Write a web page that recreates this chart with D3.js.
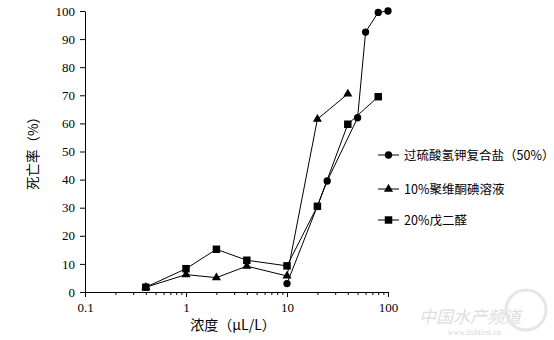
<!DOCTYPE html>
<html>
<head>
<meta charset="utf-8">
<script src="https://cdn.jsdelivr.net/npm/d3@7"></script>
<style>
  body { margin: 0; background: #fff; }
  svg { display: block; }
  .tick text { font-family: "Liberation Serif", "DejaVu Serif", serif; font-size: 13px; fill: #000; }
  .cn { font-family: "Noto Sans CJK SC", sans-serif; fill: #000; }
</style>
</head>
<body>
<svg class="chart"></svg>
<script>
// series data (concentration in uL/L, mortality %)
var seriesNames = ["过硫酸氢钾复合盐（50%）", "10%聚维酮碘溶液", "20%戊二醛"];
var potassiumX = [10, 25, 50, 60, 80, 100];
var potassiumY = [3, 39.5, 62, 92.5, 99.5, 100];
var iodineX = [0.4, 1, 2, 4, 10, 20, 40];
var iodineY = [1.7, 6.2, 5.1, 9.2, 5.7, 61.5, 70.5];
var glutaralX = [0.4, 1, 2, 4, 10, 20, 40, 80];
var glutaralY = [1.7, 8.3, 15.2, 11.3, 9.3, 30.5, 59.7, 69.5];
var xTicks = [0.1, 1, 10, 100];
var yTicks = [0, 10, 20, 30, 40, 50, 60, 70, 80, 90, 100];

function show() {
    'use strict';

    var margin = { top: 11, left: 85 },
        width = 303,
        height = 281;

    var svg = d3.select(".chart")
        .attr("width", 554)
        .attr("height", 340);

    var chart = svg.append("g")
        .attr("transform", "translate(" + margin.left + "," + margin.top + ")");

    var x = d3.scaleLog().domain([0.1, 100]).range([0, width]);
    var y = d3.scaleLinear().domain([0, 100]).range([height, 0]);

    // minor log ticks
    var minor = [];
    [0.1, 1, 10].forEach(function (d) {
        for (var k = 2; k <= 9; k++) minor.push(d * k);
    });

    chart.append("g")
        .attr("transform", "translate(0," + height + ")")
        .call(d3.axisBottom(x).tickValues(minor).tickSize(3).tickFormat(""))
        .call(g => g.select(".domain").remove());

    var xAxis = chart.append("g")
        .attr("transform", "translate(0," + height + ")")
        .call(d3.axisBottom(x).tickValues(xTicks).tickSize(5).tickSizeOuter(0)
            .tickFormat(d => d < 1 ? "0.1" : String(d)));
    xAxis.selectAll("text").attr("dy", "0.9em");

    var yAxis = chart.append("g")
        .call(d3.axisLeft(y).tickValues(yTicks).tickSize(5).tickSizeOuter(0));
    yAxis.selectAll("text").attr("x", -10);

    svg.selectAll(".domain, .tick line").attr("stroke", "#000");

    var line = d3.line().x(d => x(d[0])).y(d => y(d[1]));

    var data = [
        { name: seriesNames[0], pts: d3.zip(potassiumX, potassiumY), shape: d3.symbolCircle, size: 42 },
        { name: seriesNames[1], pts: d3.zip(iodineX, iodineY), shape: d3.symbolTriangle, size: 36 },
        { name: seriesNames[2], pts: d3.zip(glutaralX, glutaralY), shape: d3.symbolSquare, size: 56 }
    ];

    // draw in reverse so circles sit on top
    data.slice().reverse().forEach(function (s) {
        chart.append("path")
            .attr("d", line(s.pts))
            .attr("fill", "none")
            .attr("stroke", "#000")
            .attr("stroke-width", 1);
        chart.selectAll(null).data(s.pts)
          .enter().append("path")
            .attr("d", d3.symbol().type(s.shape).size(s.size))
            .attr("transform", d => "translate(" + x(d[0]) + "," + y(d[1]) + ")")
            .attr("fill", "#000");
    });

    // legend
    var legend = svg.append("g").attr("transform", "translate(378,155)");
    data.forEach(function (s, i) {
        var row = legend.append("g").attr("transform", "translate(0," + [0, 34, 65][i] + ")");
        row.append("line").attr("x1", 0).attr("x2", 21).attr("stroke", "#000");
        row.append("path")
            .attr("d", d3.symbol().type(s.shape).size(s.size))
            .attr("transform", "translate(10.5,0)");
        row.append("text")
            .attr("class", "cn")
            .attr("x", 26)
            .attr("dy", "0.36em")
            .style("font-size", "12.5px")
            .text(s.name);
    });

    // axis titles
    svg.append("text")
        .attr("class", "cn")
        .attr("x", 233).attr("y", 330)
        .attr("text-anchor", "middle")
        .style("font-size", "14px")
        .text("浓度（μL/L）");

    svg.append("text")
        .attr("class", "cn")
        .attr("transform", "translate(38,150) rotate(-90)")
        .attr("text-anchor", "middle")
        .style("font-size", "13.5px")
        .text("死亡率（%）");

    // watermark
    svg.append("text")
        .attr("class", "cn")
        .attr("x", 470).attr("y", 323)
        .attr("text-anchor", "middle")
        .style("font-size", "17px").style("font-style", "italic")
        .style("fill", "#dedede")
        .text("中国水产频道");
    svg.append("text")
        .attr("x", 474).attr("y", 335)
        .attr("text-anchor", "middle")
        .style("font-family", "Liberation Serif").style("font-size", "8px")
        .style("fill", "#d6d6d6")
        .text("www.fishfirst.cn");
    svg.append("circle")
        .attr("cx", 526).attr("cy", 310).attr("r", 20)
        .attr("fill", "none").attr("stroke", "#e6e6e6").attr("stroke-width", 3);
}
show();
</script>
</body>
</html>
